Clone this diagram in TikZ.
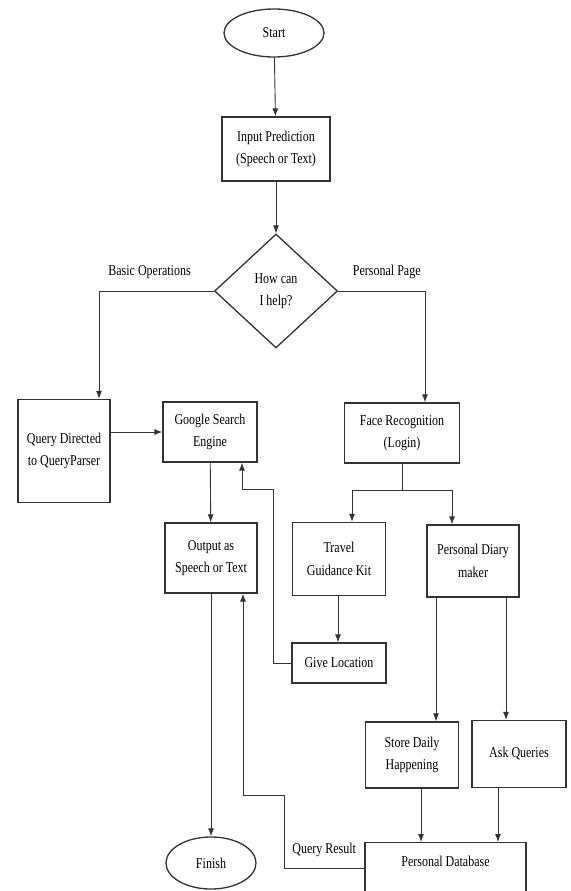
\documentclass[tikz,border=0pt]{standalone}
\usepackage{fontspec}
\setmainfont[FakeStretch=0.8]{Liberation Serif}
\usetikzlibrary{shapes.geometric, arrows.meta, positioning, calc}

\tikzset{
  box/.style={draw=black!80, line width=1.3pt, align=center, inner sep=2pt, font=\fontsize{15}{22.5}\selectfont},
  line/.style={draw=black!80, line width=0.9pt},
  arrow/.style={line, -{Latex[length=8pt,width=6pt]}},
  tag/.style={font=\fontsize{15}{22.5}\selectfont, inner sep=1pt},
}

\begin{document}
\begin{tikzpicture}[x=1pt, y=-1pt]
\useasboundingbox (0,0) rectangle (570,891);
\clip (0,0) rectangle (570,891);

\node[box, ellipse, minimum width=100pt, minimum height=48pt] (start) at (274,33) {Start};
\node[box, minimum width=108pt, minimum height=64pt] (input) at (276,149) {Input Prediction\\(Speech or Text)};
\node[box, diamond, inner sep=0pt, minimum width=123pt, minimum height=114pt] (help) at (276,291) {How can\\I help?};

\node[box, minimum width=92pt, minimum height=103pt] (query) at (64,451) {Query Directed\\to QueryParser};
\node[box, minimum width=94pt, minimum height=60pt] (google) at (210,432) {Google Search\\Engine};
\node[box, minimum width=92pt, minimum height=70pt] (output) at (211,558) {Output as\\Speech or Text};
\node[box, ellipse, minimum width=90pt, minimum height=52pt] (finish) at (211,863) {Finish};

\node[box, minimum width=115pt, minimum height=60pt] (face) at (402,433) {Face Recognition\\(Login)};
\node[box, minimum width=93pt, minimum height=73pt] (travel) at (339,559) {Travel\\Guidance Kit};
\node[box, minimum width=92pt, minimum height=72pt] (diary) at (473,561) {Personal Diary\\maker};
\node[box, minimum width=94pt, minimum height=40pt] (location) at (339,663) {Give Location};
\node[box, minimum width=93pt, minimum height=66pt] (store) at (412,755) {Store Daily\\Happening};
\node[box, minimum width=94pt, minimum height=67pt] (ask) at (519,754) {Ask Queries};
\node[box, anchor=north, minimum width=161pt, inner ysep=8pt, text height=16pt, text depth=28pt] (database) at (445.5,842) {Personal Database};

\coordinate (fork) at (402,490);
\coordinate (loopA) at (273,489);
\coordinate (qr) at (284,795);

\draw[arrow] (start) -- (input);
\draw[arrow] (input) -- (help);
\draw[arrow] (help.west) -| node[tag, pos=0.28, above=11pt] (basic) {Basic Operations} ([xshift=35pt]query.north);
\draw[arrow] (help.east) -| node[tag, pos=0.28, above=11pt] (personal) {Personal Page} ([xshift=23pt]face.north);
\draw[arrow] (query.east |- google.west) -- (google.west);
\draw[arrow] (google) -- (output);
\draw[arrow] (output) -- (finish);

\draw[line] (face.south) -- (fork);
\draw[arrow] (fork) -| ([xshift=13pt]travel.north);
\draw[arrow] (fork) -| ([xshift=-21pt]diary.north);
\draw[arrow] ([xshift=-1pt]travel.south) -- ([xshift=-1pt]location.north);
\draw[arrow] (location.west) -| (loopA) -| ([xshift=32pt]google.south);

\draw[arrow] ([xshift=-37pt]diary.south) -- ([xshift=-37pt]diary.south |- store.north);
\draw[arrow] ([xshift=33pt]diary.south) -- ([xshift=33pt]diary.south |- ask.north);
\draw[arrow] ([xshift=9pt]store.south) -- ([xshift=9pt]store.south |- database.north);
\draw[arrow] ([xshift=-21pt]ask.south) -- ([xshift=-21pt]ask.south |- database.north);
\draw[arrow] ([yshift=4pt]database.west) -| node[tag, pos=0.25, above=10pt] (result) {Query Result} (qr) -| ([xshift=32pt]output.south);

\end{tikzpicture}
\end{document}
